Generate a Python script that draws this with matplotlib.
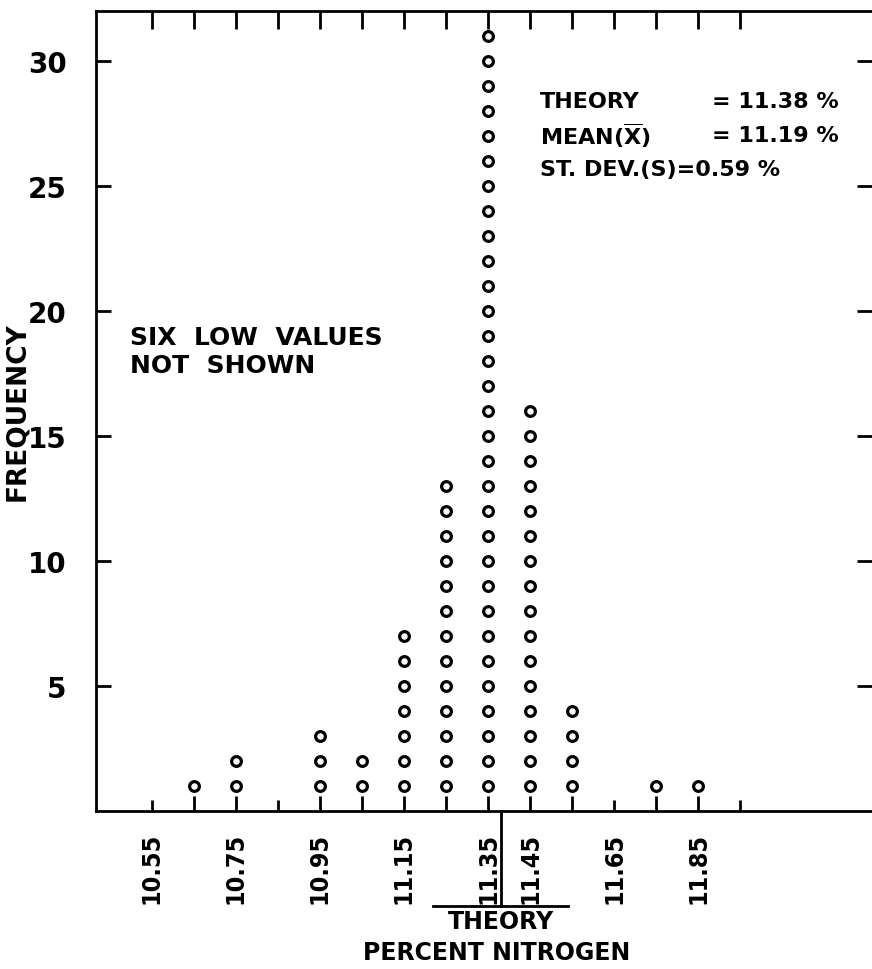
import numpy as np
import matplotlib
matplotlib.use("Agg")
import matplotlib.pyplot as plt

plt.rcParams['font.family'] = ['DejaVu Sans']
plt.rcParams['font.weight'] = 'bold'
plt.rcParams['mathtext.fontset'] = 'dejavusans'

# percent nitrogen classes and how many results fell in each
nitrogen = [10.65, 10.75, 10.95, 11.05, 11.15, 11.25, 11.35, 11.45, 11.55, 11.75, 11.85]
freq = [1, 2, 3, 2, 7, 13, 31, 16, 4, 1, 1]

xticks = [10.55, 10.65, 10.75, 10.85, 10.95, 11.05, 11.15, 11.25,
          11.35, 11.45, 11.55, 11.65, 11.75, 11.85, 11.95]
xticklabels = ['10.55', '', '10.75', '', '10.95', '', '11.15', '',
               '11.35', '11.45', '', '11.65', '', '11.85', '']
yticks = [5, 10, 15, 20, 25, 30]

theory = 11.38
mean = 11.19
sd = 0.59

fig = plt.figure(figsize=(8.72, 9.7), dpi=100)
ax = fig.add_axes([0.110, 0.1629, 0.890, 0.8247])

# stack one circle per result
xs = []
ys = []
for v, n in zip(nitrogen, freq):
    for k in range(1, n + 1):
        xs.append(v)
        ys.append(k)
ax.plot(xs, ys, 'o', ms=7, mfc='white', mec='black', mew=2.3, clip_on=False)

ax.set_xlim(10.4167, 12.264)
ax.set_ylim(0, 32)

ax.set_xticks(xticks)
ax.set_xticklabels(xticklabels, rotation=90, va='top', ha='center',
                   fontsize=18, fontweight='bold', fontstretch='condensed')
ax.set_yticks(yticks)
ax.set_yticklabels([str(t) for t in yticks], fontsize=20, fontweight='bold')

ax.tick_params(axis='x', direction='in', top=True, bottom=True, length=8,
               width=2, pad=15)
ax.tick_params(axis='y', direction='in', left=True, right=True, length=11,
               width=2, pad=21)
# ticks under a stack run up to the first circle
for pos, t in zip(xticks, ax.xaxis.get_major_ticks()):
    t.tick2line.set_markersize(13)
    if any(abs(pos - v) < 1e-6 for v in nitrogen):
        t.tick1line.set_markersize(11)

for s in ['left', 'top', 'bottom']:
    ax.spines[s].set_linewidth(2)
ax.spines['right'].set_visible(False)

ax.set_ylabel('FREQUENCY', fontsize=19, fontweight='bold')
ax.yaxis.set_label_coords(-0.085, 0.5)

ax.text(10.497, 19.45, 'SIX  LOW  VALUES\nNOT  SHOWN', fontsize=18,
        fontweight='bold', va='top', ha='left', linespacing=1.2)

fs = 16
ax.text(11.474, 28.4, 'THEORY', fontsize=fs, fontweight='bold', va='center')
ax.text(11.883, 28.4, '= %.2f %%' % theory, fontsize=fs, fontweight='bold', va='center')
ax.text(11.474, 27.04, r'MEAN($\mathbf{\overline{X}}$)', fontsize=fs,
        fontweight='bold', va='center')
ax.text(11.883, 27.04, '= %.2f %%' % mean, fontsize=fs, fontweight='bold', va='center')
ax.text(11.474, 25.68, 'ST. DEV.(S)=%.2f %%' % sd, fontsize=fs,
        fontweight='bold', va='center')

# theory marker under the axis
ax.plot([theory, theory], [0, -3.8], color='black', lw=2, clip_on=False)
ax.plot([theory - 0.16, theory + 0.16], [-3.8, -3.8], color='black', lw=2,
        clip_on=False)
ax.text(theory, -4.4, 'THEORY', fontsize=17, fontweight='bold',
        ha='center', va='center')
ax.text(theory - 0.01, -5.65, 'PERCENT NITROGEN', fontsize=17,
        fontweight='bold', ha='center', va='center')

plt.savefig('out.png', dpi=100)
